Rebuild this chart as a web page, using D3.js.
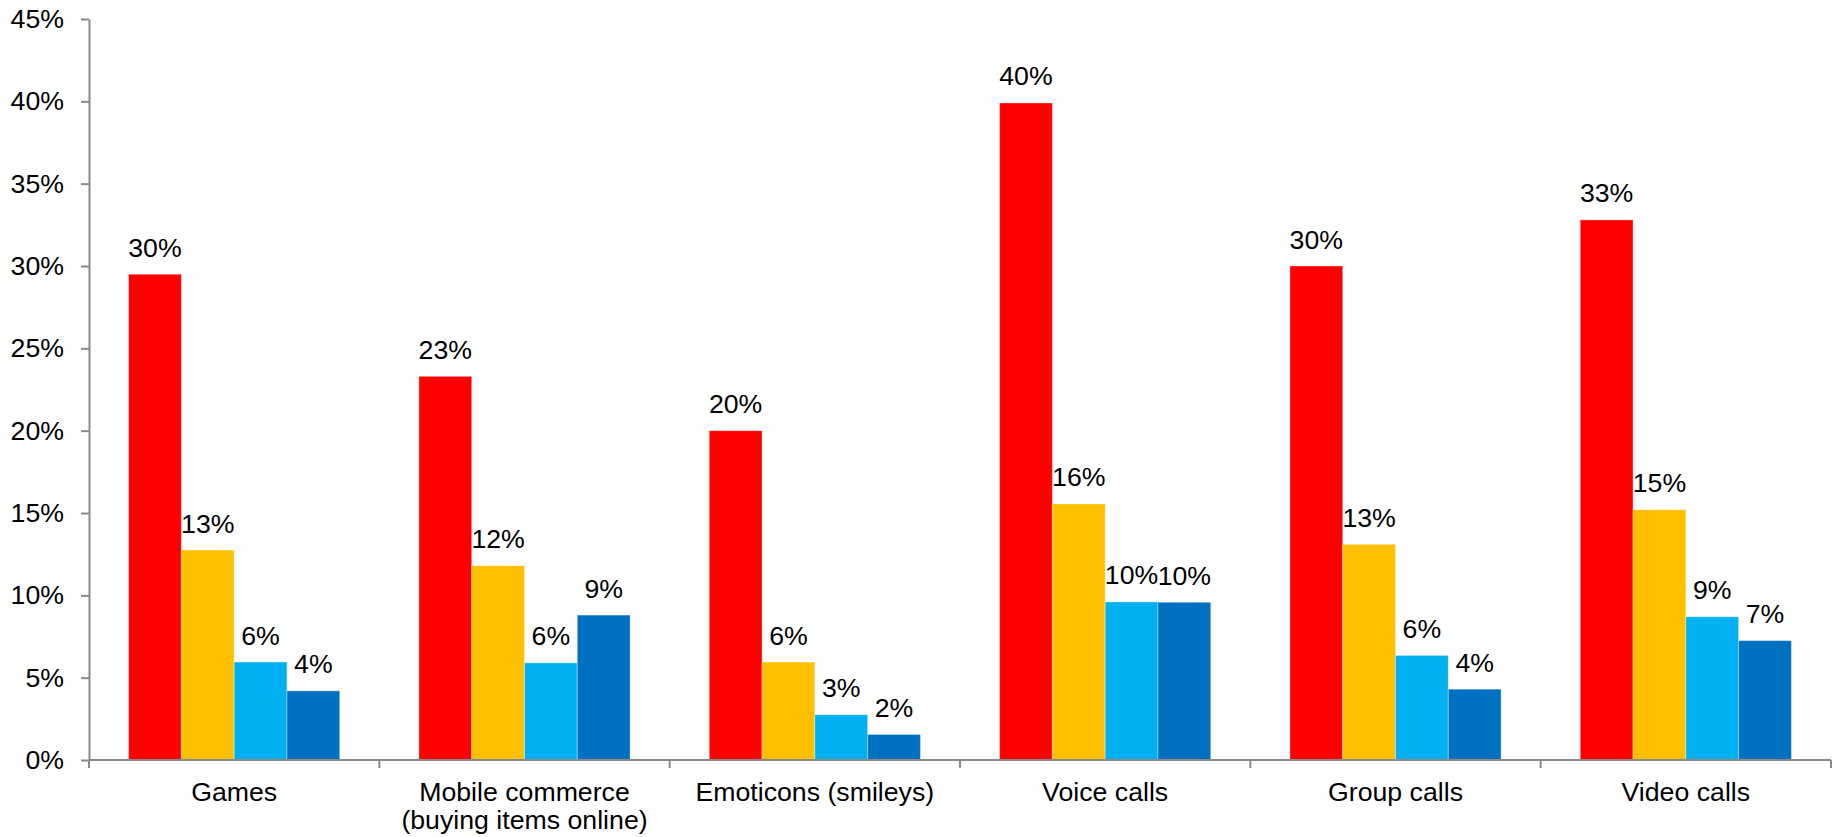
<!DOCTYPE html>
<html>
<head>
<meta charset="utf-8">
<script src="https://cdn.jsdelivr.net/npm/d3@7"></script>
<style>
  html, body { margin: 0; padding: 0; background: #fff; }
  svg { display: block; font-family: "Liberation Sans", Arial, sans-serif; }
</style>
</head>
<body>
<svg id="chart" width="1834" height="837"></svg>
<script>
// Feature categories (line breaks split with "\n")
const categories = [
  "Games",
  "Mobile commerce\n(buying items online)",
  "Emoticons (smileys)",
  "Voice calls",
  "Group calls",
  "Video calls"
];

// Four respondent groups, values in percent, one per category
const seriesNames = ["group1", "group2", "group3", "group4"];
const group1 = [29.5, 23.3, 20.0, 39.9, 30.0, 32.8];
const group2 = [12.75, 11.8, 5.95, 15.55, 13.1, 15.2];
const group3 = [5.95, 5.9, 2.75, 9.6, 6.35, 8.7];
const group4 = [4.2, 8.8, 1.55, 9.58, 4.3, 7.25];
const seriesValues = [group1, group2, group3, group4];
const seriesColors = ["#FF0000", "#FFC000", "#00B0F0", "#0070C0"];

const yTicks = [0, 5, 10, 15, 20, 25, 30, 35, 40, 45];

const svg = d3.select("#chart");
const W = +svg.attr("width"), H = +svg.attr("height");
const margin = { top: 19, right: 3, bottom: 77, left: 89 };
const innerW = W - margin.left - margin.right;
const innerH = H - margin.top - margin.bottom;

const g = svg.append("g").attr("transform", `translate(${margin.left},${margin.top})`);

const x0 = d3.scaleBand().domain(categories).range([0, innerW]).paddingInner(0).paddingOuter(0);
const x1 = d3.scaleBand().domain(seriesNames).range([0, x0.bandwidth()]).paddingInner(0).paddingOuter(0.75);
const y = d3.scaleLinear().domain([0, 45]).range([innerH, 0]);

const axisColor = "#8a8a8a";
const fontSize = 26.7;

// Bars
const rows = categories.map((c, i) => ({
  cat: c,
  vals: seriesNames.map((s, j) => ({ s, v: seriesValues[j][i], color: seriesColors[j] }))
}));

const grp = g.selectAll("g.cat").data(rows).join("g")
  .attr("class", "cat")
  .attr("transform", d => `translate(${x0(d.cat)},0)`);

grp.selectAll("rect").data(d => d.vals).join("rect")
  .attr("x", d => x1(d.s))
  .attr("y", d => y(d.v))
  .attr("width", x1.bandwidth())
  .attr("height", d => y(0) - y(d.v))
  .attr("fill", d => d.color)
  .attr("stroke", "rgba(255,255,255,0.35)")
  .attr("stroke-width", 1);

// Value labels above each bar
grp.selectAll("text.val").data(d => d.vals).join("text")
  .attr("class", "val")
  .attr("x", d => x1(d.s) + x1.bandwidth() / 2)
  .attr("y", d => y(d.v) - 17.5)
  .attr("text-anchor", "middle")
  .attr("font-size", fontSize)
  .attr("fill", "#000")
  .text(d => Math.round(d.v) + "%");

// Y axis
const yAxis = g.append("g")
  .call(d3.axisLeft(y).tickValues(yTicks).tickSize(8).tickSizeOuter(0).tickPadding(17)
    .tickFormat(d => d + "%"));
yAxis.select(".domain").attr("stroke", axisColor).attr("stroke-width", 2);
yAxis.selectAll(".tick line").attr("stroke", axisColor).attr("stroke-width", 2);
yAxis.selectAll(".tick text").attr("font-size", fontSize).attr("fill", "#000")
  .attr("font-family", "Liberation Sans, Arial, sans-serif");

// X axis: baseline, category boundary ticks, and labels
const xAxis = g.append("g").attr("transform", `translate(0,${innerH})`);
xAxis.append("line")
  .attr("x1", 0).attr("x2", innerW)
  .attr("stroke", axisColor).attr("stroke-width", 2);

const bounds = categories.map(c => x0(c)).concat([x0.range()[1]]);
xAxis.selectAll("line.bound").data(bounds).join("line")
  .attr("class", "bound")
  .attr("x1", d => d).attr("x2", d => d)
  .attr("y1", 0).attr("y2", 8)
  .attr("stroke", axisColor).attr("stroke-width", 2);

const lbl = xAxis.selectAll("text.cat").data(categories).join("text")
  .attr("class", "cat")
  .attr("x", d => x0(d) + x0.bandwidth() / 2)
  .attr("y", 40.5)
  .attr("text-anchor", "middle")
  .attr("font-size", fontSize)
  .attr("fill", "#000");
lbl.selectAll("tspan").data(d => d.split("\n")).join("tspan")
  .attr("x", function () { return d3.select(this.parentNode).attr("x"); })
  .attr("dy", (d, i) => i === 0 ? 0 : 28)
  .text(d => d);
</script>
</body>
</html>
